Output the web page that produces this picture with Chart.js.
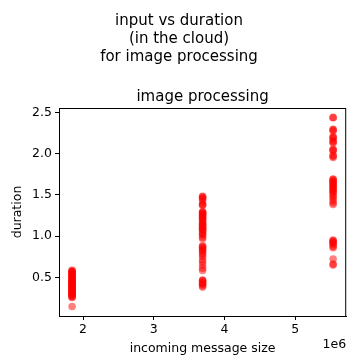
<!DOCTYPE html>
<html>
<head>
<meta charset="utf-8">
<script src="https://cdn.jsdelivr.net/npm/chart.js@4/dist/chart.umd.min.js"></script>
<style>
  html, body { margin: 0; padding: 0; background: #fff; }
  #wrap { width: 350px; height: 356px; }
</style>
</head>
<body>
<div id="wrap"><canvas id="c" width="350" height="356"></canvas></div>
<script>
// incoming message sizes (bytes) for the three input groups
const messageSizes = [1845000, 3690000, 5535000];

// measured durations for each message size
const durationsSmall = [0.584, 0.579, 0.571, 0.566, 0.552, 0.548, 0.541, 0.531, 0.524, 0.512,
  0.507, 0.498, 0.493, 0.486, 0.478, 0.471, 0.462, 0.455, 0.449, 0.441, 0.437, 0.428,
  0.421, 0.418, 0.409, 0.402, 0.396, 0.391, 0.383, 0.376, 0.369, 0.361, 0.356, 0.347,
  0.342, 0.338, 0.331, 0.325, 0.318, 0.311, 0.302, 0.296, 0.288, 0.281, 0.271, 0.262,
  0.256, 0.146];
const durationsMedium = [1.482, 1.476, 1.461, 1.452, 1.428, 1.388, 1.379, 1.372, 1.297, 1.289,
  1.281, 1.272, 1.262, 1.249, 1.238, 1.226, 1.214, 1.201, 1.188, 1.166, 1.152, 1.142,
  1.131, 1.118, 1.104, 1.096, 1.083, 1.072, 1.061, 1.038, 1.026, 1.012, 0.985, 0.968,
  0.882, 0.874, 0.861, 0.842, 0.831, 0.818, 0.796, 0.772, 0.751, 0.712, 0.684, 0.648,
  0.611, 0.582, 0.468, 0.461, 0.451, 0.432, 0.422, 0.415, 0.398, 0.381];
const durationsLarge = [2.438, 2.434, 2.295, 2.288, 2.272, 2.206, 2.198, 2.184, 2.152, 2.141,
  2.128, 2.051, 2.044, 2.032, 1.978, 1.966, 1.952, 1.691, 1.684, 1.672, 1.661, 1.648,
  1.635, 1.622, 1.611, 1.598, 1.582, 1.571, 1.552, 1.541, 1.528, 1.503, 1.482, 1.461,
  1.432, 1.405, 1.382, 0.951, 0.943, 0.932, 0.921, 0.912, 0.894, 0.872, 0.858, 0.721,
  0.662, 0.648];

const xTickValues = [2e6, 3e6, 4e6, 5e6];
const yTickValues = [0.5, 1.0, 1.5, 2.0, 2.5];

const groups = [durationsSmall, durationsMedium, durationsLarge];
const points = [];
groups.forEach((g, i) => g.forEach(d => points.push({ x: messageSizes[i], y: d })));

const FONT = "'DejaVu Sans', sans-serif";

// box around the plot area plus the exponent label of the x axis
const framePlugin = {
  id: 'frame',
  afterDraw(chart) {
    const { ctx, chartArea: a } = chart;
    ctx.save();
    ctx.strokeStyle = '#000';
    ctx.lineWidth = 1;
    ctx.strokeRect(a.left + 0.5, a.top + 0.5, a.right - a.left - 1, a.bottom - a.top);
    ctx.fillStyle = '#000';
    ctx.font = '12.5px ' + FONT;
    ctx.textAlign = 'right';
    ctx.textBaseline = 'middle';
    ctx.fillText('1e6', a.right, chart.height - 11);
    ctx.restore();
  }
};

new Chart(document.getElementById('c'), {
  type: 'scatter',
  data: {
    datasets: [{
      data: points,
      backgroundColor: 'rgba(255,0,0,0.5)',
      borderWidth: 0,
      pointRadius: 3.8,
      pointHoverRadius: 3.8
    }]
  },
  options: {
    responsive: false,
    animation: false,
    events: [],
    layout: { padding: { left: 10, right: 2, top: 12, bottom: 0 } },
    plugins: {
      legend: { display: false },
      tooltip: { enabled: false },
      title: {
        display: true,
        text: ['input vs duration', '(in the cloud)', 'for image processing'],
        color: '#000',
        font: { family: FONT, size: 15, weight: 'normal', lineHeight: 1.2 },
        padding: { top: 0, bottom: 22 }
      },
      subtitle: {
        display: true,
        fullSize: false,
        text: 'image processing',
        color: '#000',
        font: { family: FONT, size: 15, weight: 'normal', lineHeight: 1.2 },
        padding: { top: 0, bottom: 2 }
      }
    },
    scales: {
      x: {
        type: 'linear',
        min: 1.66e6,
        max: 5.72e6,
        afterBuildTicks(scale) { scale.ticks = xTickValues.map(v => ({ value: v })); },
        afterFit(scale) { scale.height = 40; },
        ticks: {
          color: '#000',
          font: { family: FONT, size: 12.5 },
          padding: 2,
          maxRotation: 0,
          callback: v => String(v / 1e6)
        },
        grid: { drawOnChartArea: false, drawTicks: true, tickLength: 4, color: '#000' },
        border: { display: true, color: '#000' },
        title: {
          display: true,
          text: 'incoming message size',
          color: '#000',
          font: { family: FONT, size: 12.5 },
          padding: { top: 0, bottom: 0 }
        }
      },
      y: {
        type: 'linear',
        min: 0.031,
        max: 2.552,
        afterBuildTicks(scale) { scale.ticks = yTickValues.map(v => ({ value: v })); },
        afterFit(scale) { scale.width = 49; },
        ticks: {
          color: '#000',
          font: { family: FONT, size: 12.5 },
          padding: 3,
          callback: v => Number(v).toFixed(1)
        },
        grid: { drawOnChartArea: false, drawTicks: true, tickLength: 4, color: '#000' },
        border: { display: true, color: '#000' },
        title: {
          display: true,
          text: 'duration',
          color: '#000',
          font: { family: FONT, size: 12.5 },
          padding: { top: 0, bottom: 2 }
        }
      }
    }
  },
  plugins: [framePlugin]
});
</script>
</body>
</html>
